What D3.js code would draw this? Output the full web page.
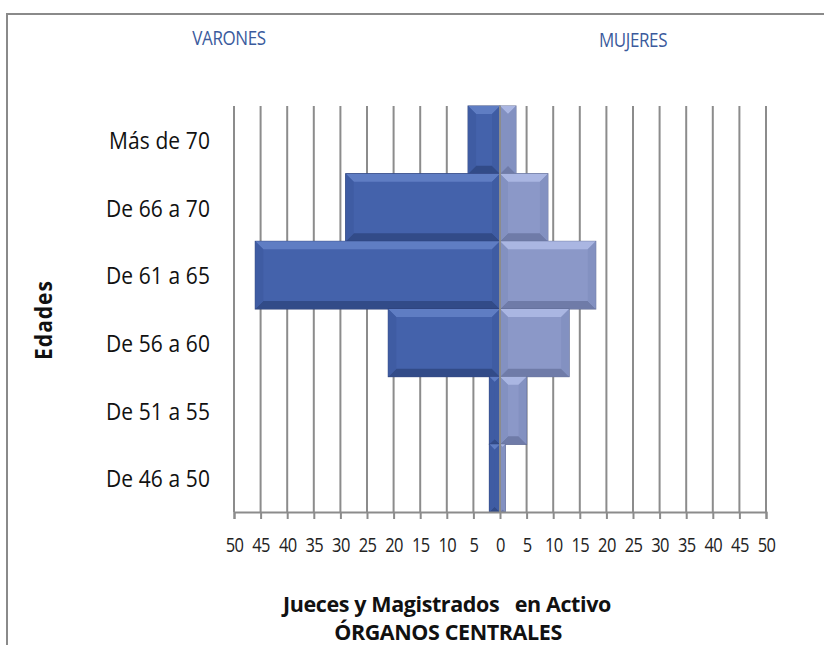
<!DOCTYPE html>
<html>
<head>
<meta charset="utf-8">
<script src="https://cdn.jsdelivr.net/npm/d3@7"></script>
<style>
  body { margin: 0; background: #fff; }
  svg { display: block; }
</style>
</head>
<body>
<div id="chart"></div>
<script>
// data
var ageGroups = ["Más de 70", "De 66 a 70", "De 61 a 65", "De 56 a 60", "De 51 a 55", "De 46 a 50"];
var varones = [6, 29, 46, 21, 2, 2];
var mujeres = [3, 9, 18, 13, 5, 1];
var tickValues = [-50, -45, -40, -35, -30, -25, -20, -15, -10, -5, 0, 5, 10, 15, 20, 25, 30, 35, 40, 45, 50];

function init() {
    var w = 824, h = 645;
    var left = 234, right = 766, top = 106, bottom = 512;
    var font = "Open Sans, sans-serif";

    var svg = d3.select("#chart").append("svg")
        .attr("width", w)
        .attr("height", h);

    // frame
    svg.append("path")
        .attr("d", "M7," + h + "V14H" + w)
        .attr("fill", "none")
        .attr("stroke", "#8a8a8a")
        .attr("stroke-width", 2);

    var x = d3.scaleLinear().domain([-50, 50]).range([left, right]);
    var y = d3.scaleBand().domain(ageGroups).range([top, bottom]).padding(0);

    // gridlines
    svg.append("g").selectAll("line")
        .data(tickValues)
        .enter().append("line")
        .attr("x1", function(d) { return x(d); })
        .attr("x2", function(d) { return x(d); })
        .attr("y1", top)
        .attr("y2", bottom)
        .attr("stroke", "#8c8c8c")
        .attr("stroke-width", 2);

    // bars with a simple bevel
    function bevelBars(cls, values, sign, c) {
        var g = svg.append("g").attr("class", cls);
        var bars = g.selectAll("g").data(values).enter().append("g");
        function x0(d) { return sign < 0 ? x(-d) : x(0); }
        function bw(d) { return Math.abs(x(d) - x(0)); }
        bars.append("rect")
            .attr("x", x0)
            .attr("y", function(d, i) { return y(ageGroups[i]); })
            .attr("width", bw)
            .attr("height", y.bandwidth())
            .attr("fill", c.main)
            .attr("stroke", c.edge)
            .attr("stroke-width", 1);
        var b = 8;
        bars.append("path")
            .attr("d", function(d, i) {
                var xa = x0(d), xb = xa + bw(d), ya = y(ageGroups[i]);
                var bb = Math.min(b, bw(d) / 2);
                return "M" + xa + "," + ya + "H" + xb + "L" + (xb - bb) + "," + (ya + bb) + "H" + (xa + bb) + "Z";
            })
            .attr("fill", c.light);
        bars.append("path")
            .attr("d", function(d, i) {
                var xa = x0(d), xb = xa + bw(d), yb = y(ageGroups[i]) + y.bandwidth();
                var bb = Math.min(b, bw(d) / 2);
                return "M" + xa + "," + yb + "H" + xb + "L" + (xb - bb) + "," + (yb - bb) + "H" + (xa + bb) + "Z";
            })
            .attr("fill", c.dark);
        bars.append("path")
            .attr("d", function(d, i) {
                var xa = x0(d), xb = xa + bw(d), ya = y(ageGroups[i]), yb = ya + y.bandwidth();
                var bb = Math.min(b, bw(d) / 2);
                return "M" + xa + "," + ya + "L" + (xa + bb) + "," + (ya + bb) + "V" + (yb - bb) + "L" + xa + "," + yb + "Z" +
                       "M" + xb + "," + ya + "L" + (xb - bb) + "," + (ya + bb) + "V" + (yb - bb) + "L" + xb + "," + yb + "Z";
            })
            .attr("fill", c.side);
    }

    bevelBars("varones", varones, -1, { main: "#4462ab", light: "#5f7dc3", dark: "#324b88", side: "#3f5ca3", edge: "#2a3f78" });
    bevelBars("mujeres", mujeres, 1, { main: "#8b98c8", light: "#aab6e2", dark: "#6f7ba8", side: "#8391c1", edge: "#5f6a94" });

    // zero line on top
    svg.append("line")
        .attr("x1", x(0)).attr("x2", x(0))
        .attr("y1", top).attr("y2", bottom)
        .attr("stroke", "#8c8c8c")
        .attr("stroke-width", 2);

    // x axis
    var xAxis = d3.axisBottom(x)
        .tickValues(tickValues)
        .tickSize(7)
        .tickFormat(function(d) { return Math.abs(d); });
    var ax = svg.append("g")
        .attr("transform", "translate(0," + bottom + ")")
        .call(xAxis);
    ax.select(".domain").attr("stroke", "#8c8c8c").attr("stroke-width", 2);
    ax.selectAll(".tick line").attr("stroke", "#8c8c8c").attr("stroke-width", 2);
    ax.selectAll(".tick text")
        .attr("y", 0)
        .attr("dy", null)
        .attr("transform", "translate(0,40) scale(1,1.25)")
        .attr("font-family", font)
        .attr("font-size", "16.5px")
        .attr("letter-spacing", "-0.6px")
        .attr("fill", "#222");

    // category labels (stretched a little, like the narrow source font)
    svg.append("g").selectAll("text")
        .data(ageGroups)
        .enter().append("text")
        .text(function(d) { return d; })
        .attr("transform", function(d) {
            return "translate(210," + (y(d) + y.bandwidth() / 2 + 9) + ") scale(1,1.15)";
        })
        .attr("text-anchor", "end")
        .attr("font-family", font)
        .attr("font-size", "21px")
        .attr("letter-spacing", "0.1px")
        .attr("fill", "#111");

    // axis titles
    svg.append("text")
        .text("Edades")
        .attr("transform", "translate(52,320) rotate(-90) scale(1,1.1)")
        .attr("text-anchor", "middle")
        .attr("font-family", font)
        .attr("font-weight", "bold")
        .attr("font-size", "21px")
        .attr("letter-spacing", "1px")
        .attr("fill", "#111");

    svg.append("text")
        .text("VARONES")
        .attr("transform", "translate(229,45) scale(1,1.15)")
        .attr("text-anchor", "middle")
        .attr("font-family", font)
        .attr("font-size", "17px")
        .attr("letter-spacing", "-0.4px")
        .attr("fill", "#3a5a9c");
    svg.append("text")
        .text("MUJERES")
        .attr("transform", "translate(633,47) scale(1,1.15)")
        .attr("text-anchor", "middle")
        .attr("font-family", font)
        .attr("font-size", "17px")
        .attr("letter-spacing", "-0.4px")
        .attr("fill", "#3a5a9c");

    svg.append("text")
        .text("Jueces y Magistrados\u00a0\u00a0 en Activo")
        .attr("x", 447).attr("y", 612)
        .attr("text-anchor", "middle")
        .attr("font-family", font)
        .attr("font-weight", "bold")
        .attr("font-size", "21.5px")
        .attr("letter-spacing", "-0.4px")
        .attr("fill", "#111");
    svg.append("text")
        .text("ÓRGANOS CENTRALES")
        .attr("x", 448).attr("y", 640)
        .attr("text-anchor", "middle")
        .attr("font-family", font)
        .attr("font-weight", "bold")
        .attr("font-size", "21.5px")
        .attr("letter-spacing", "-0.4px")
        .attr("fill", "#111");
}
window.onload = init;
</script>
</body>
</html>
